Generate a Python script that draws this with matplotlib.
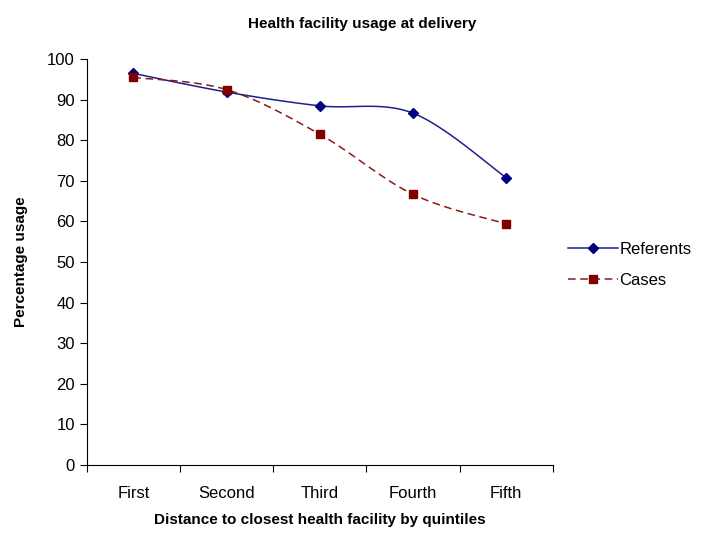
import numpy as np
import matplotlib
matplotlib.use("Agg")
import matplotlib.pyplot as plt

categories = ["First", "Second", "Third", "Fourth", "Fifth"]
referents = [96.5, 91.9, 88.5, 86.7, 70.8]
cases = [95.5, 92.5, 81.5, 66.7, 59.4]

plt.rcParams["font.family"] = ["Liberation Sans", "DejaVu Sans"]


def smooth(x, y, n=30):
    # Excel-style smoothed line: cubic Bezier with Catmull-Rom tangents
    x = np.asarray(x, float); y = np.asarray(y, float)
    P = np.column_stack([x, y])
    Pe = np.vstack([P[0], P, P[-1]])
    out = [P[0]]
    t = np.linspace(0, 1, n)[1:, None]
    for i in range(len(P) - 1):
        p0, p1, p2, p3 = Pe[i], Pe[i + 1], Pe[i + 2], Pe[i + 3]
        c1 = p1 + (p2 - p0) / 6
        c2 = p2 - (p3 - p1) / 6
        seg = ((1 - t) ** 3) * p1 + 3 * ((1 - t) ** 2) * t * c1 + 3 * (1 - t) * t ** 2 * c2 + t ** 3 * p2
        out.extend(seg)
    out = np.array(out)
    return out[:, 0], out[:, 1]


fig = plt.figure(figsize=(7.17, 5.33), dpi=100)
ax = fig.add_axes([0.121, 0.1276, 0.650, 0.7614])

xs = np.arange(1, len(categories) + 1)
sx, sy = smooth(xs, referents)
ax.plot(sx, sy, color="#1f1f8f", lw=1.1)
ax.plot(xs, referents, ls="none", marker="D", ms=5, color="#000080")
cx, cy = smooth(xs, cases)
ax.plot(cx, cy, color="#8b1a1a", lw=1.1, ls=(0, (5, 3)))
ax.plot(xs, cases, ls="none", marker="s", ms=6, color="#800000")

# legend proxies
ax.plot([], [], color="#1f1f8f", lw=1.1, marker="D", ms=5, mfc="#000080", mec="#000080", label="Referents")
ax.plot([], [], color="#8b1a1a", lw=1.1, ls=(0, (5, 3)), marker="s", ms=6, mfc="#800000", mec="#800000", label="Cases")
ax.legend(loc="center left", bbox_to_anchor=(1.0, 0.493), frameon=False, fontsize=12,
          handlelength=3.0, handletextpad=0.1, labelspacing=1.0)

ax.set_xlim(0.5, 5.5)
ax.set_ylim(0, 100)
ax.set_yticks(range(0, 101, 10))
ax.set_xticks(np.arange(0.5, 5.6, 1))
ax.set_xticklabels([])
ax.set_xticks(xs, minor=True)
ax.set_xticklabels(categories, minor=True, fontsize=12)
ax.tick_params(axis="x", which="minor", length=0, pad=15)
ax.tick_params(axis="x", which="major", direction="out", length=5)
ax.tick_params(axis="y", direction="out", length=5, labelsize=12)
for s in ["top", "right"]:
    ax.spines[s].set_visible(False)

ax.set_ylabel("Percentage usage", fontsize=11, fontweight="bold", labelpad=14)
ax.set_xlabel("Distance to closest health facility by quintiles", fontsize=11, fontweight="bold", labelpad=9)
fig.text(0.505, 0.955, "Health facility usage at delivery", ha="center", va="center",
         fontsize=11, fontweight="bold")

fig.savefig("out.png", dpi=100)
